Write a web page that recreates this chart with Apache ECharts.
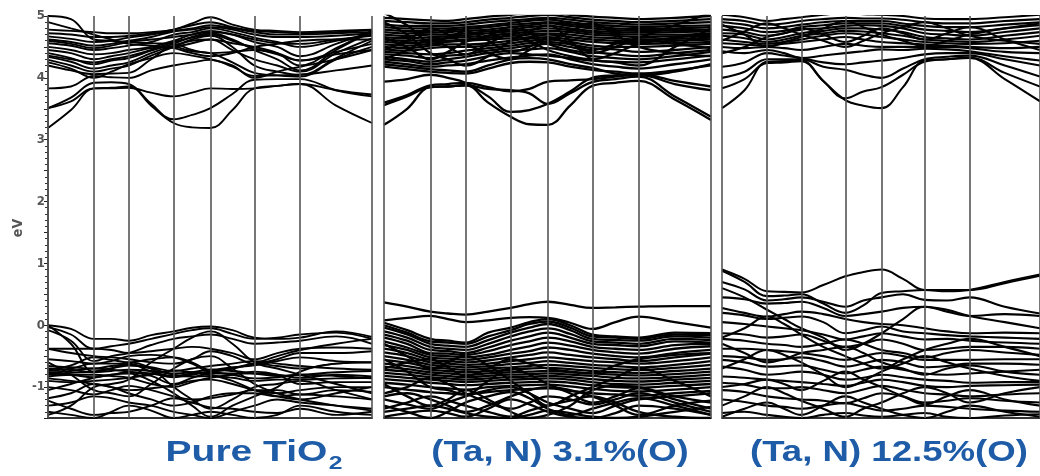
<!DOCTYPE html>
<html><head><meta charset="utf-8">
<script src="https://cdn.jsdelivr.net/npm/echarts@6/dist/echarts.min.js"></script>
<style>html,body{margin:0;padding:0;background:#fff}#c{width:1040px;height:476px}</style>
</head><body><div id="c"></div>
<script>
// k-path sample positions (high-symmetry points and midpoints between them)
const kx = [0,23,46,63.5,81,103.5,126,144.5,163,185,207,230,253,289,325];
const kPoints = [0,46,81,126,163,207,253,325];
const yTickValues = [-1,0,1,2,3,4,5];
const panelLabels = ['Pure TiO', '2', '(Ta, N) 3.1%(O)', '(Ta, N) 12.5%(O)'];

// ---------- Panel 1: pure TiO2 ----------
const pureCB = [
 [3.19,3.48,3.83,3.84,3.86,3.55,3.27,3.20,3.19,3.48,3.83,3.87,3.90,3.55,3.27],
 [3.51,3.68,3.92,3.93,3.90,3.58,3.33,3.40,3.51,3.74,3.97,3.98,3.98,3.80,3.70],
 [3.51,3.62,3.83,3.83,3.84,3.76,3.70,3.76,3.83,3.82,3.83,3.87,3.90,3.80,3.73],
 [3.83,3.86,4.03,4.01,4.00,4.12,4.20,4.25,4.29,4.18,4.03,4.04,4.05,4.12,4.20],
 [4.20,4.12,4.06,4.07,4.08,4.30,4.50,4.43,4.40,4.25,4.08,4.04,4.02,4.30,4.50],
 [4.29,4.20,4.10,4.15,4.20,4.36,4.50,4.62,4.68,4.50,4.20,4.10,4.05,4.32,4.60],
 [4.34,4.26,4.15,4.20,4.25,4.40,4.52,4.60,4.62,4.45,4.30,4.20,4.10,4.40,4.64],
 [4.40,4.32,4.22,4.28,4.32,4.44,4.55,4.66,4.72,4.62,4.45,4.30,4.12,4.45,4.75],
 [4.45,4.40,4.30,4.35,4.40,4.48,4.50,4.56,4.62,4.56,4.50,4.40,4.20,4.48,4.76],
 [4.50,4.45,4.38,4.40,4.45,4.50,4.60,4.70,4.76,4.70,4.58,4.50,4.35,4.55,4.75],
 [4.56,4.52,4.45,4.48,4.52,4.58,4.70,4.74,4.80,4.74,4.65,4.58,4.50,4.60,4.70],
 [4.62,4.58,4.52,4.55,4.60,4.66,4.75,4.78,4.82,4.78,4.70,4.66,4.66,4.68,4.72],
 [4.67,4.63,4.58,4.60,4.65,4.70,4.76,4.80,4.85,4.80,4.74,4.70,4.70,4.72,4.74],
 [4.72,4.70,4.66,4.66,4.68,4.72,4.78,4.85,4.90,4.82,4.76,4.74,4.72,4.74,4.77],
 [4.78,4.76,4.74,4.72,4.72,4.74,4.78,4.88,4.98,4.86,4.78,4.76,4.74,4.76,4.78],
 [5.00,4.95,4.62,4.60,4.58,4.56,4.55,4.45,4.40,4.42,4.45,4.40,4.28,4.38,4.45],
 [4.90,4.80,4.70,4.62,4.55,4.52,4.48,4.40,4.35,4.40,4.50,4.55,4.60,4.62,4.62],
 [4.25,4.15,4.00,4.10,4.22,4.32,4.40,4.36,4.30,4.20,4.00,4.10,4.18,4.30,4.45],
 [4.36,4.30,4.25,4.30,4.35,4.45,4.58,4.65,4.70,4.60,4.48,4.38,4.28,4.42,4.55],
 [4.60,4.55,4.48,4.52,4.58,4.62,4.66,4.70,4.74,4.70,4.62,4.56,4.55,4.62,4.68]
];
const pureVB = [
 [0.00,-0.06,-0.22,-0.22,-0.25,-0.16,-0.10,-0.04,-0.02,-0.08,-0.20,-0.22,-0.20,-0.10,-0.19],
 [-0.03,-0.15,-0.38,-0.34,-0.30,-0.22,-0.14,-0.08,-0.05,-0.14,-0.22,-0.20,-0.15,-0.12,-0.22],
 [-0.08,-0.25,-0.58,-0.50,-0.45,-0.32,-0.22,-0.18,-0.15,-0.22,-0.30,-0.28,-0.25,-0.18,-0.30],
 [-0.38,-0.38,-0.38,-0.40,-0.45,-0.42,-0.38,-0.35,-0.38,-0.45,-0.55,-0.45,-0.38,-0.36,-0.38],
 [-0.38,-0.45,-0.50,-0.52,-0.55,-0.60,-0.62,-0.55,-0.42,-0.50,-0.62,-0.55,-0.45,-0.45,-0.42],
 [-0.72,-0.65,-0.52,-0.56,-0.60,-0.55,-0.52,-0.60,-0.72,-0.68,-0.65,-0.58,-0.52,-0.58,-0.60],
 [-0.74,-0.70,-0.62,-0.62,-0.62,-0.75,-0.82,-0.78,-0.75,-0.70,-0.62,-0.66,-0.70,-0.62,-0.60],
 [-0.77,-0.74,-0.70,-0.72,-0.75,-0.82,-0.95,-0.85,-0.78,-0.78,-0.78,-0.80,-0.85,-0.80,-0.83],
 [-0.80,-0.77,-0.75,-0.70,-0.65,-0.70,-0.80,-0.83,-0.82,-0.85,-0.90,-0.88,-0.88,-0.86,-0.85],
 [-0.83,-0.80,-0.80,-0.82,-0.85,-0.95,-1.00,-0.92,-0.85,-0.80,-0.75,-0.80,-0.95,-0.92,-0.92],
 [-0.86,-0.90,-0.95,-1.00,-1.05,-1.02,-0.97,-0.90,-0.88,-0.95,-1.05,-1.10,-1.05,-1.00,-1.00],
 [-1.00,-1.05,-1.12,-1.05,-0.98,-1.05,-1.15,-1.20,-1.18,-1.12,-1.05,-1.05,-1.12,-1.05,-1.08],
 [-1.18,-1.10,-0.95,-1.00,-1.10,-1.20,-1.30,-1.25,-1.15,-1.10,-1.10,-1.15,-1.12,-1.15,-1.20],
 [-1.30,-1.25,-1.15,-1.18,-1.25,-1.30,-1.40,-1.45,-1.50,-1.40,-1.30,-1.20,-1.25,-1.30,-1.35],
 [-1.22,-1.35,-1.45,-1.42,-1.40,-1.30,-1.18,-1.25,-1.33,-1.35,-1.40,-1.42,-1.35,-1.45,-1.40],
 [0.00,-0.30,-0.75,-0.70,-0.60,-0.70,-1.00,-1.20,-1.35,-1.20,-1.00,-0.95,-0.90,-1.05,-1.20],
 [-1.45,-1.30,-1.00,-0.95,-0.88,-0.60,-0.38,-0.20,-0.10,-0.30,-0.60,-0.70,-0.80,-0.95,-1.10],
 [-0.60,-0.80,-1.05,-1.10,-1.15,-0.95,-0.70,-0.55,-0.50,-0.70,-0.95,-1.10,-1.20,-1.30,-1.38],
 [-1.05,-0.95,-0.85,-0.80,-0.78,-0.90,-1.10,-1.30,-1.48,-1.30,-1.15,-1.00,-0.75,-0.62,-0.60],
 [-1.40,-1.45,-1.50,-1.40,-1.30,-1.38,-1.50,-1.45,-1.40,-1.45,-1.50,-1.45,-1.30,-1.40,-1.45],
 [-0.90,-0.92,-0.90,-0.88,-0.85,-0.80,-0.73,-0.76,-0.80,-0.90,-1.05,-1.15,-1.20,-1.10,-1.00],
 [-0.55,-0.58,-0.62,-0.58,-0.50,-0.48,-0.52,-0.62,-0.75,-0.70,-0.62,-0.50,-0.40,-0.30,-0.22],
 [-0.70,-0.72,-0.76,-0.74,-0.72,-0.74,-0.78,-0.76,-0.72,-0.74,-0.78,-0.82,-0.80,-0.76,-0.74],
 [-0.78,-0.80,-0.84,-0.80,-0.76,-0.78,-0.84,-0.80,-0.76,-0.80,-0.86,-0.84,-0.80,-0.82,-0.86],
 [-0.66,-0.68,-0.70,-0.66,-0.64,-0.68,-0.74,-0.70,-0.66,-0.62,-0.58,-0.62,-0.66,-0.70,-0.72]
];

// ---------- Panel 2: (Ta, N) 3.1% ----------
const ta31CB = [
 [3.24,3.50,3.85,3.86,3.88,3.60,3.37,3.25,3.24,3.55,3.87,3.92,3.95,3.65,3.32],
 [3.56,3.70,3.85,3.86,3.88,3.82,3.80,3.75,3.58,3.75,3.93,3.98,4.02,3.70,3.37],
 [3.60,3.72,3.88,3.90,3.92,3.85,3.78,3.82,3.94,3.96,3.98,4.02,4.05,3.90,3.80],
 [3.94,3.98,4.05,4.00,3.92,3.70,3.45,3.48,3.58,3.78,4.00,4.04,4.06,3.95,3.86],
 [4.18,4.14,4.10,4.08,4.07,4.15,4.24,4.26,4.25,4.18,4.13,4.10,4.07,4.12,4.20],
 [4.22,4.18,4.14,4.12,4.10,4.20,4.30,4.32,4.30,4.22,4.16,4.07,4.04,4.10,4.22],
 [4.26,4.22,4.18,4.20,4.22,4.28,4.33,4.36,4.38,4.30,4.22,4.18,4.15,4.22,4.30],
 [4.30,4.27,4.22,4.25,4.28,4.35,4.40,4.38,4.36,4.32,4.28,4.26,4.25,4.30,4.36],
 [4.34,4.30,4.26,4.30,4.34,4.40,4.44,4.46,4.48,4.42,4.35,4.32,4.30,4.35,4.42],
 [4.38,4.36,4.32,4.36,4.38,4.44,4.48,4.52,4.55,4.50,4.42,4.38,4.35,4.40,4.45],
 [4.42,4.40,4.38,4.40,4.44,4.48,4.52,4.56,4.58,4.54,4.48,4.46,4.42,4.45,4.50],
 [4.46,4.44,4.48,4.50,4.50,4.52,4.56,4.60,4.62,4.58,4.52,4.50,4.50,4.52,4.55],
 [4.50,4.48,4.52,4.54,4.54,4.56,4.60,4.64,4.66,4.62,4.58,4.56,4.55,4.56,4.58],
 [4.54,4.52,4.55,4.58,4.60,4.62,4.64,4.66,4.70,4.66,4.62,4.60,4.58,4.60,4.62],
 [4.58,4.56,4.58,4.60,4.62,4.65,4.68,4.70,4.72,4.70,4.66,4.64,4.62,4.63,4.65],
 [4.62,4.60,4.62,4.64,4.66,4.68,4.72,4.74,4.76,4.74,4.70,4.68,4.66,4.67,4.68],
 [4.66,4.64,4.66,4.67,4.69,4.72,4.75,4.78,4.80,4.77,4.73,4.71,4.70,4.70,4.72],
 [4.70,4.68,4.70,4.70,4.72,4.75,4.78,4.82,4.84,4.80,4.76,4.74,4.73,4.74,4.75],
 [4.74,4.72,4.73,4.74,4.76,4.78,4.82,4.85,4.88,4.84,4.80,4.77,4.76,4.77,4.78],
 [4.78,4.76,4.76,4.77,4.79,4.82,4.86,4.88,4.90,4.87,4.83,4.80,4.79,4.80,4.82],
 [4.82,4.80,4.80,4.80,4.82,4.85,4.89,4.92,4.94,4.90,4.86,4.84,4.82,4.84,4.85],
 [4.86,4.84,4.84,4.84,4.86,4.90,4.93,4.95,4.97,4.94,4.90,4.88,4.86,4.88,4.90],
 [4.92,4.90,4.88,4.88,4.90,4.94,4.97,5.00,5.02,4.98,4.94,4.92,4.90,4.92,4.95],
 [4.97,4.95,4.93,4.92,4.95,4.99,5.02,5.05,5.06,5.02,4.99,4.97,4.95,4.97,5.00],
 [4.90,4.70,4.40,4.30,4.20,4.35,4.60,4.75,4.85,4.60,4.30,4.25,4.20,4.50,4.80],
 [4.45,4.60,4.80,4.70,4.55,4.40,4.30,4.45,4.60,4.75,4.88,4.70,4.50,4.40,4.35],
 [5.05,4.85,4.60,4.65,4.75,4.60,4.42,4.50,4.65,4.55,4.45,4.55,4.65,4.85,5.05],
 [4.30,4.45,4.62,4.50,4.38,4.55,4.70,4.60,4.45,4.35,4.30,4.40,4.55,4.65,4.70],
 [4.65,4.50,4.30,4.42,4.58,4.68,4.82,4.72,4.55,4.45,4.40,4.50,4.62,4.55,4.48]
];
const ta31Gap = [
 [0.37,0.30,0.22,0.19,0.17,0.22,0.28,0.34,0.38,0.33,0.28,0.29,0.30,0.31,0.31],
 [0.08,0.12,0.15,0.10,0.05,0.08,0.12,0.13,0.12,0.04,-0.06,0.05,0.14,0.05,-0.04]
];
const ta31VB = [
 [0.04,-0.08,-0.22,-0.25,-0.28,-0.12,-0.04,0.05,0.10,0.00,-0.15,-0.18,-0.20,-0.12,-0.13],
 [0.00,-0.12,-0.26,-0.28,-0.30,-0.18,-0.08,0.02,0.06,-0.04,-0.18,-0.20,-0.22,-0.15,-0.16],
 [-0.04,-0.15,-0.30,-0.33,-0.35,-0.24,-0.12,-0.04,0.02,-0.08,-0.22,-0.24,-0.25,-0.18,-0.20],
 [-0.10,-0.20,-0.35,-0.38,-0.40,-0.30,-0.18,-0.10,-0.05,-0.14,-0.26,-0.28,-0.30,-0.22,-0.24],
 [-0.15,-0.25,-0.40,-0.42,-0.45,-0.36,-0.25,-0.18,-0.12,-0.20,-0.30,-0.32,-0.34,-0.26,-0.28],
 [-0.20,-0.30,-0.45,-0.46,-0.48,-0.42,-0.32,-0.26,-0.20,-0.26,-0.35,-0.38,-0.40,-0.32,-0.30],
 [-0.26,-0.36,-0.48,-0.50,-0.52,-0.48,-0.40,-0.34,-0.28,-0.33,-0.40,-0.44,-0.46,-0.38,-0.34],
 [-0.32,-0.40,-0.52,-0.54,-0.56,-0.52,-0.46,-0.42,-0.36,-0.40,-0.46,-0.50,-0.52,-0.45,-0.40],
 [-0.38,-0.45,-0.56,-0.58,-0.60,-0.57,-0.52,-0.48,-0.44,-0.48,-0.52,-0.55,-0.58,-0.52,-0.46],
 [-0.44,-0.50,-0.60,-0.62,-0.64,-0.62,-0.58,-0.55,-0.52,-0.55,-0.58,-0.60,-0.62,-0.58,-0.52],
 [-0.50,-0.56,-0.64,-0.66,-0.68,-0.66,-0.63,-0.61,-0.58,-0.61,-0.64,-0.66,-0.68,-0.64,-0.58],
 [-0.56,-0.61,-0.68,-0.70,-0.72,-0.70,-0.68,-0.66,-0.64,-0.66,-0.69,-0.71,-0.72,-0.69,-0.64],
 [-0.62,-0.66,-0.72,-0.74,-0.76,-0.74,-0.72,-0.70,-0.69,-0.71,-0.74,-0.76,-0.77,-0.74,-0.70],
 [-0.67,-0.71,-0.76,-0.78,-0.80,-0.78,-0.76,-0.75,-0.74,-0.76,-0.78,-0.80,-0.81,-0.79,-0.75],
 [-0.72,-0.75,-0.80,-0.82,-0.84,-0.82,-0.80,-0.79,-0.78,-0.80,-0.82,-0.85,-0.86,-0.84,-0.80],
 [-0.77,-0.80,-0.84,-0.86,-0.88,-0.86,-0.84,-0.83,-0.82,-0.84,-0.87,-0.90,-0.91,-0.88,-0.85],
 [-0.82,-0.85,-0.88,-0.90,-0.92,-0.90,-0.88,-0.87,-0.86,-0.88,-0.92,-0.95,-0.96,-0.93,-0.90],
 [-0.87,-0.90,-0.93,-0.95,-0.97,-0.95,-0.93,-0.92,-0.91,-0.93,-0.97,-1.00,-1.01,-0.98,-0.95],
 [-0.93,-0.96,-1.00,-1.02,-1.04,-1.00,-0.98,-0.97,-0.96,-0.99,-1.03,-1.06,-1.07,-1.04,-1.00],
 [-1.00,-1.04,-1.08,-1.10,-1.12,-1.08,-1.05,-1.03,-1.02,-1.06,-1.10,-1.12,-1.14,-1.10,-1.06],
 [-1.10,-1.00,-0.85,-0.95,-1.10,-1.25,-1.35,-1.25,-1.15,-1.20,-1.28,-1.20,-1.10,-1.25,-1.40],
 [-1.20,-1.28,-1.35,-1.25,-1.15,-1.05,-1.00,-1.10,-1.25,-1.35,-1.42,-1.30,-1.20,-1.15,-1.10],
 [-1.35,-1.25,-1.15,-1.22,-1.30,-1.40,-1.48,-1.38,-1.30,-1.22,-1.15,-1.25,-1.40,-1.48,-1.50],
 [-1.48,-1.42,-1.38,-1.42,-1.48,-1.35,-1.20,-1.28,-1.40,-1.48,-1.50,-1.42,-1.30,-1.35,-1.45],
 [-0.55,-0.75,-1.00,-1.05,-1.12,-0.90,-0.70,-0.80,-0.95,-1.10,-1.25,-1.15,-1.02,-1.20,-1.35],
 [-1.15,-1.10,-1.20,-1.30,-1.40,-1.30,-1.15,-1.05,-1.00,-1.05,-1.15,-1.30,-1.45,-1.30,-1.22],
 [-0.30,-0.50,-0.70,-0.60,-0.50,-0.65,-0.90,-1.10,-1.30,-1.15,-1.00,-0.85,-0.70,-0.90,-1.15],
 [-1.30,-1.40,-1.50,-1.40,-1.25,-1.15,-1.08,-1.18,-1.35,-1.45,-1.35,-1.25,-1.18,-1.30,-1.45],
 [-0.95,-1.15,-1.30,-1.20,-1.05,-1.20,-1.40,-1.50,-1.45,-1.30,-1.05,-0.98,-1.00,-1.15,-1.25],
 [-0.70,-0.60,-0.55,-0.68,-0.82,-0.70,-0.55,-0.62,-0.70,-0.75,-0.78,-0.65,-0.55,-0.48,-0.45],
 [-1.40,-1.35,-1.30,-1.35,-1.42,-1.48,-1.50,-1.45,-1.38,-1.42,-1.48,-1.50,-1.48,-1.40,-1.32]
];

// ---------- Panel 3: (Ta, N) 12.5% ----------
const ta125CB = [
 [3.51,3.80,4.26,4.27,4.28,3.95,3.64,3.55,3.51,3.85,4.28,4.30,4.32,3.98,3.62],
 [3.83,3.98,4.24,4.25,4.27,3.95,3.67,3.78,3.85,4.05,4.26,4.30,4.33,4.08,3.86],
 [4.00,4.10,4.30,4.30,4.30,4.18,4.13,4.05,4.00,4.15,4.30,4.34,4.36,4.20,4.02],
 [4.18,4.25,4.40,4.36,4.32,4.25,4.22,4.25,4.28,4.32,4.38,4.40,4.40,4.30,4.20],
 [4.43,4.40,4.45,4.40,4.32,4.36,4.40,4.43,4.46,4.45,4.47,4.46,4.43,4.35,4.28],
 [4.50,4.48,4.50,4.48,4.45,4.50,4.55,4.52,4.50,4.50,4.50,4.50,4.48,4.42,4.40],
 [4.56,4.54,4.52,4.55,4.58,4.62,4.66,4.62,4.58,4.56,4.54,4.52,4.50,4.48,4.50],
 [4.62,4.58,4.55,4.58,4.62,4.68,4.72,4.70,4.66,4.62,4.58,4.56,4.55,4.56,4.60],
 [4.68,4.64,4.58,4.62,4.68,4.72,4.76,4.75,4.72,4.68,4.62,4.60,4.58,4.62,4.68],
 [4.72,4.70,4.62,4.66,4.72,4.76,4.80,4.80,4.78,4.74,4.66,4.64,4.62,4.68,4.74],
 [4.78,4.74,4.68,4.72,4.78,4.80,4.84,4.85,4.84,4.80,4.72,4.70,4.68,4.74,4.80],
 [4.84,4.80,4.74,4.76,4.82,4.85,4.88,4.88,4.88,4.84,4.78,4.76,4.74,4.80,4.85],
 [4.90,4.86,4.80,4.82,4.86,4.90,4.92,4.92,4.92,4.88,4.84,4.82,4.82,4.86,4.90],
 [4.95,4.92,4.86,4.88,4.92,4.95,4.97,4.96,4.96,4.94,4.90,4.88,4.88,4.92,4.95],
 [5.02,4.98,4.92,4.95,4.98,5.02,5.05,5.03,5.02,5.00,4.96,4.95,4.95,4.98,5.02],
 [4.60,4.75,4.88,4.80,4.70,4.60,4.50,4.60,4.72,4.82,4.90,4.80,4.68,4.60,4.55],
 [4.86,4.70,4.50,4.58,4.66,4.80,4.92,4.82,4.70,4.60,4.52,4.60,4.70,4.80,4.88],
 [4.40,4.50,4.66,4.72,4.80,4.70,4.58,4.68,4.80,4.72,4.62,4.72,4.82,4.62,4.45]
];
const ta125VB = [
 [0.90,0.75,0.55,0.54,0.53,0.65,0.79,0.86,0.90,0.75,0.57,0.57,0.57,0.68,0.80],
 [0.88,0.70,0.47,0.48,0.50,0.35,0.20,0.32,0.52,0.55,0.57,0.55,0.57,0.70,0.82],
 [0.70,0.58,0.40,0.42,0.45,0.38,0.30,0.40,0.45,0.50,0.41,0.40,0.45,0.30,0.19],
 [0.45,0.42,0.35,0.36,0.38,0.28,0.15,0.18,0.22,0.28,0.30,0.22,0.15,0.18,0.15],
 [0.28,0.20,0.14,0.18,0.22,0.18,0.10,0.05,0.02,0.00,-0.05,-0.10,-0.13,-0.12,-0.13],
 [0.20,0.16,0.10,0.12,0.14,0.05,-0.13,-0.08,-0.02,-0.10,-0.13,-0.16,-0.18,-0.20,-0.22],
 [0.05,0.02,-0.02,-0.05,-0.08,-0.15,-0.23,-0.18,-0.13,-0.18,-0.23,-0.22,-0.25,-0.28,-0.30],
 [-0.13,-0.15,-0.20,-0.18,-0.15,-0.25,-0.35,-0.30,-0.23,-0.30,-0.40,-0.38,-0.35,-0.35,-0.38],
 [-0.22,-0.25,-0.30,-0.32,-0.35,-0.30,-0.23,-0.30,-0.40,-0.45,-0.52,-0.45,-0.40,-0.44,-0.48],
 [-0.38,-0.38,-0.40,-0.42,-0.45,-0.50,-0.56,-0.50,-0.45,-0.50,-0.56,-0.56,-0.56,-0.55,-0.55],
 [-0.50,-0.52,-0.56,-0.55,-0.52,-0.58,-0.67,-0.62,-0.56,-0.60,-0.68,-0.66,-0.62,-0.62,-0.64],
 [-0.56,-0.60,-0.67,-0.66,-0.65,-0.72,-0.78,-0.72,-0.67,-0.72,-0.78,-0.80,-0.78,-0.75,-0.72],
 [-0.67,-0.72,-0.80,-0.78,-0.75,-0.80,-0.88,-0.85,-0.80,-0.84,-0.88,-0.90,-0.93,-0.92,-0.92],
 [-0.83,-0.85,-0.88,-0.90,-0.92,-0.95,-0.98,-0.93,-0.88,-0.92,-0.98,-1.00,-0.98,-0.97,-0.96],
 [-0.93,-0.96,-1.02,-1.02,-1.00,-1.05,-1.10,-1.04,-0.98,-1.04,-1.10,-1.12,-1.15,-1.12,-1.10],
 [-1.05,-1.08,-1.15,-1.18,-1.20,-1.22,-1.26,-1.18,-1.10,-1.15,-1.25,-1.22,-1.18,-1.22,-1.25],
 [-1.20,-1.24,-1.30,-1.32,-1.35,-1.30,-1.26,-1.32,-1.38,-1.35,-1.30,-1.32,-1.35,-1.38,-1.40],
 [-1.42,-1.40,-1.45,-1.48,-1.50,-1.45,-1.42,-1.46,-1.48,-1.45,-1.42,-1.48,-1.50,-1.46,-1.44],
 [0.60,0.45,0.25,0.10,-0.05,-0.20,-0.40,-0.30,-0.13,0.10,0.30,0.25,0.15,0.05,-0.05],
 [-0.20,-0.05,0.14,0.02,-0.15,-0.35,-0.50,-0.62,-0.70,-0.55,-0.40,-0.30,-0.22,-0.35,-0.50],
 [-0.70,-0.55,-0.40,-0.48,-0.60,-0.80,-1.00,-0.90,-0.75,-0.62,-0.50,-0.60,-0.70,-0.82,-0.90],
 [-1.00,-0.95,-0.88,-0.95,-1.05,-0.90,-0.75,-0.88,-1.00,-1.15,-1.28,-1.15,-1.05,-1.20,-1.30],
 [-1.30,-1.15,-1.00,-1.10,-1.22,-1.35,-1.48,-1.35,-1.25,-1.10,-1.00,-1.10,-1.25,-1.10,-1.00],
 [-1.48,-1.35,-1.25,-1.35,-1.45,-1.30,-1.15,-1.25,-1.35,-1.45,-1.50,-1.40,-1.30,-1.40,-1.48],
 [-0.30,-0.45,-0.60,-0.55,-0.45,-0.40,-0.35,-0.45,-0.60,-0.70,-0.80,-0.70,-0.65,-0.75,-0.80]
];

const panels = [
  {bands: [pureCB, pureVB], left: 48, width: 324, lw: 1.9},
  {bands: [ta31CB, ta31Gap, ta31VB], left: 384, width: 327, lw: 2.3},
  {bands: [ta125CB, ta125VB], left: 722, width: 323, lw: 2.1}
];

const chart = echarts.init(document.getElementById('c'), null, {renderer: 'canvas'});
const grids = [], xAxes = [], yAxes = [], series = [];
const labelFont = '"DejaVu Sans Condensed", "Liberation Sans", sans-serif';
panels.forEach((p, i) => {
  grids.push({left: p.left, top: 16, width: p.width, height: 402});
  xAxes.push({type: 'value', gridIndex: i, min: 0, max: 325,
    axisLine: {show: true, onZero: false, lineStyle: {color: '#333', width: 2}},
    axisTick: {show: false}, axisLabel: {show: false}, splitLine: {show: false}});
  yAxes.push({type: 'value', gridIndex: i, min: -1.5, max: 5, interval: 0.5,
    show: i === 0,
    axisLine: {show: true, lineStyle: {color: '#111', width: 1.5}},
    axisTick: {show: true, length: 4, lineStyle: {color: '#222', width: 1}},
    minorTick: {show: true, splitNumber: 5, length: 3, lineStyle: {color: '#333', width: 1}},
    splitLine: {show: false},
    axisLabel: {margin: 3, color: '#555', fontFamily: labelFont, fontWeight: 'bold', fontSize: 13,
      formatter: v => yTickValues.indexOf(v) >= 0 ? String(v) : ''}
  });
  // high-symmetry vertical lines
  series.push({type: 'line', xAxisIndex: i, yAxisIndex: i, data: [], silent: true,
    markLine: {silent: true, symbol: ['none', 'none'], label: {show: false},
      lineStyle: {color: '#555', width: 1.6, type: 'solid'},
      data: kPoints.map(k => ({xAxis: k}))}});
  p.bands.forEach(group => group.forEach(b => {
    series.push({type: 'line', xAxisIndex: i, yAxisIndex: i, silent: true,
      data: kx.map((x, j) => [x, b[j]]), smooth: 0.4, symbol: 'none',
      lineStyle: {color: '#000', width: p.lw}});
  }));
});

const titleFont = {fontFamily: 'Liberation Sans', fontWeight: 'bold', fill: '#1f5ca8'};
chart.setOption({
  animation: false,
  grid: grids, xAxis: xAxes, yAxis: yAxes, series: series,
  graphic: [
    {type: 'text', x: 18, y: 228, rotation: Math.PI / 2,
      style: {text: 'eV', fill: '#555', font: 'bold 14px ' + labelFont, textAlign: 'center', textVerticalAlign: 'middle'}},
    {type: 'text', x: 254, y: 453, scaleX: 1.3,
      style: Object.assign({text: '{a|' + panelLabels[0] + '}{b|' + panelLabels[1] + '}', textAlign: 'center', textVerticalAlign: 'middle',
        rich: {a: Object.assign({fontSize: 30, lineHeight: 30}, titleFont),
               b: Object.assign({fontSize: 19, lineHeight: 19, padding: [22, 0, 0, 1]}, titleFont)}}, titleFont)},
    {type: 'text', x: 560, y: 453, scaleX: 1.22,
      style: Object.assign({text: panelLabels[2], fontSize: 30, textAlign: 'center', textVerticalAlign: 'middle'}, titleFont)},
    {type: 'text', x: 889, y: 453, scaleX: 1.22,
      style: Object.assign({text: panelLabels[3], fontSize: 30, textAlign: 'center', textVerticalAlign: 'middle'}, titleFont)}
  ]
});
</script>
</body></html>
